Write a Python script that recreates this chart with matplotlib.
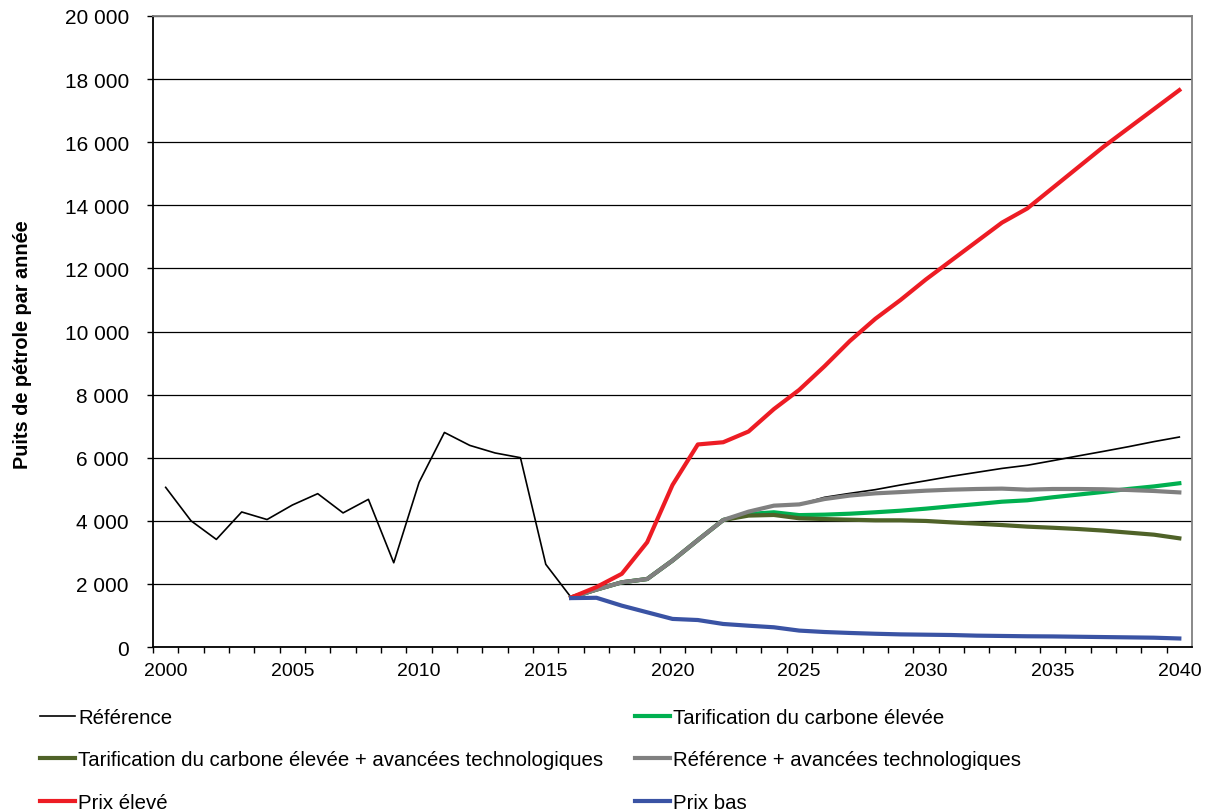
import matplotlib
matplotlib.use('Agg')
import matplotlib.pyplot as plt
from matplotlib.ticker import FuncFormatter, MultipleLocator

plt.rcParams['font.family'] = ['Liberation Sans', 'DejaVu Sans']

years_hist = list(range(2000, 2041))
years_proj = list(range(2016, 2041))

reference = [5060, 4000, 3410, 4280, 4040, 4500, 4860, 4250, 4680, 2670,
             5220, 6800, 6390, 6150, 6000, 2620, 1570, 1820, 2050, 2155,
             2740, 3390, 4025, 4290, 4480, 4520, 4745, 4870, 4987, 5135,
             5270, 5410, 5535, 5660, 5760, 5905, 6055, 6200, 6350, 6510, 6655]

carbone = [1570, 1820, 2050, 2155, 2740, 3390, 4025, 4215, 4270, 4180,
           4195, 4225, 4270, 4320, 4385, 4460, 4530, 4605, 4650, 4745,
           4830, 4915, 5010, 5090, 5190]

carbone_tech = [1570, 1820, 2050, 2155, 2740, 3390, 4025, 4165, 4185, 4080,
                4055, 4035, 4015, 4015, 3995, 3950, 3910, 3865, 3815, 3780,
                3740, 3690, 3625, 3560, 3445]

reference_tech = [1570, 1820, 2050, 2155, 2740, 3390, 4025, 4290, 4480, 4520,
                  4690, 4800, 4870, 4910, 4955, 4987, 5008, 5020, 4987, 5008,
                  5008, 5000, 4976, 4945, 4900]

prix_eleve = [1570, 1900, 2320, 3320, 5135, 6420, 6490, 6830, 7540, 8150,
              8900, 9700, 10400, 11000, 11650, 12250, 12850, 13450, 13900, 14550,
              15200, 15850, 16450, 17050, 17650]

prix_bas = [1550, 1560, 1310, 1100, 890, 855, 730, 675, 625, 520,
            475, 445, 420, 400, 390, 380, 360, 350, 340, 335,
            325, 315, 305, 295, 270]

fig = plt.figure(figsize=(12.11, 8.12), dpi=100)
ax = fig.add_axes([153/1211, 1 - 648/812, (1192 - 153)/1211, (648 - 17)/812])

l_ref, = ax.plot(years_hist, reference, color='black', lw=1.2, label='Référence')
l_c, = ax.plot(years_proj, carbone, color='#00B050', lw=3.0,
               label='Tarification du carbone élevée')
l_ct, = ax.plot(years_proj, carbone_tech, color='#4F6228', lw=3.0,
                label='Tarification du carbone élevée + avancées technologiques')
l_rt, = ax.plot(years_proj, reference_tech, color='#808080', lw=3.0,
                label='Référence + avancées technologiques')
l_pe, = ax.plot(years_proj, prix_eleve, color='#ED1C24', lw=3.0, label='Prix élevé')
l_pb, = ax.plot(years_proj, prix_bas, color='#3A53A4', lw=3.0, label='Prix bas')

ax.set_xlim(1999.5, 2040.5)
ax.set_ylim(0, 20000)
ax.yaxis.set_major_locator(MultipleLocator(2000))
ax.yaxis.set_major_formatter(FuncFormatter(lambda v, p: f'{int(v):,}'.replace(',', ' ')))
ax.grid(axis='y', color='black', lw=0.9)
ax.set_axisbelow(True)

ax.set_xticks(list(range(2000, 2041, 5)))
ax.set_xticks([y + 0.5 for y in range(1999, 2040)], minor=True)
ax.tick_params(axis='x', which='major', length=0, pad=10.5, labelsize=14)
ax.tick_params(axis='x', which='minor', length=4.3, width=1, direction='out')
ax.tick_params(axis='y', length=4.3, width=1, direction='out', labelsize=15, pad=13)

for s in ['top', 'right']:
    ax.spines[s].set_color('#808080')
    ax.spines[s].set_linewidth(1.3)
for s in ['left', 'bottom']:
    ax.spines[s].set_color('black')
    ax.spines[s].set_linewidth(1.3)

ax.set_ylabel('Puits de pétrole par année', fontsize=14.3, fontweight='bold')
ax.yaxis.set_label_coords(-0.1165, 0.48)

handles = [l_ref, l_ct, l_pe, l_c, l_rt, l_pb]
fig.legend(handles, [h.get_label() for h in handles], ncol=2, loc='upper left',
           bbox_to_anchor=(40/1211, 1 - 709/812), frameon=False, fontsize=14.65,
           handlelength=1.72, handletextpad=0.15, labelspacing=1.15,
           columnspacing=1.55, borderpad=0, borderaxespad=0)

fig.savefig('out.png', dpi=100)
